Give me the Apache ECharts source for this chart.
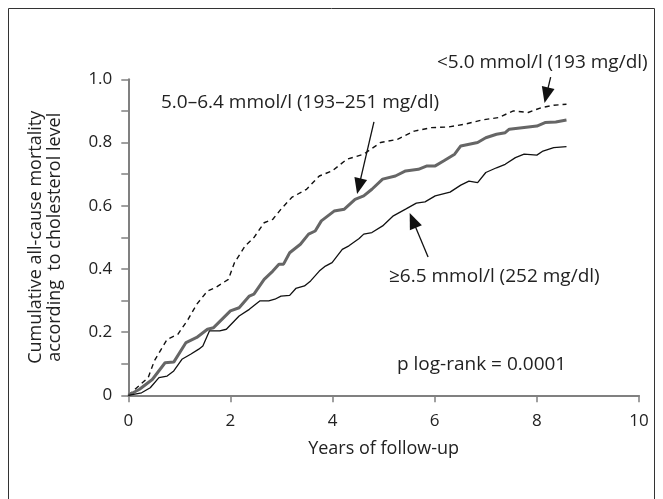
<!DOCTYPE html>
<html>
<head>
<meta charset="utf-8">
<script src="https://cdn.jsdelivr.net/npm/echarts@6/dist/echarts.min.js"></script>
<style>
html,body{margin:0;padding:0;background:#fff;}
#chart{width:663px;height:499px;}
</style>
</head>
<body>
<div id="chart"></div>
<script>
// ---- data (years, cumulative mortality) ----
const lowChol = [[0,0],[0.39,0.056],[0.51,0.109],[0.76,0.177],[0.97,0.193],[1.17,0.24],[1.34,0.288],[1.55,0.33],[1.71,0.341],[1.96,0.367],[2.08,0.42],[2.29,0.473],[2.46,0.499],[2.66,0.546],[2.83,0.557],[2.99,0.589],[3.2,0.626],[3.49,0.652],[3.74,0.694],[3.99,0.71],[4.28,0.747],[4.61,0.763],[4.94,0.80],[5.27,0.81],[5.6,0.836],[5.93,0.847],[6.26,0.849],[6.59,0.858],[6.92,0.871],[7.25,0.879],[7.54,0.90],[7.83,0.895],[8.08,0.91],[8.33,0.918],[8.58,0.921]];
const midChol = [[0,0],[0.22,0.019],[0.47,0.05],[0.72,0.103],[0.89,0.105],[1.13,0.167],[1.34,0.183],[1.55,0.209],[1.67,0.214],[2.0,0.267],[2.17,0.277],[2.37,0.314],[2.46,0.32],[2.66,0.367],[2.83,0.393],[2.95,0.415],[3.04,0.415],[3.16,0.451],[3.37,0.478],[3.53,0.51],[3.66,0.52],[3.78,0.552],[4.03,0.583],[4.23,0.589],[4.44,0.62],[4.61,0.631],[4.77,0.652],[4.98,0.684],[5.23,0.694],[5.43,0.71],[5.68,0.715],[5.85,0.726],[6.01,0.726],[6.18,0.742],[6.39,0.763],[6.51,0.789],[6.84,0.80],[7.0,0.815],[7.21,0.826],[7.38,0.831],[7.46,0.842],[8.0,0.852],[8.16,0.863],[8.37,0.865],[8.58,0.871]];
const highChol = [[0,0],[0.26,0.008],[0.43,0.024],[0.6,0.056],[0.76,0.061],[0.89,0.077],[1.05,0.114],[1.22,0.13],[1.38,0.146],[1.46,0.156],[1.59,0.204],[1.79,0.204],[1.92,0.209],[2.17,0.251],[2.37,0.272],[2.58,0.299],[2.75,0.299],[2.87,0.304],[2.99,0.314],[3.16,0.316],[3.28,0.338],[3.45,0.346],[3.57,0.362],[3.74,0.393],[3.86,0.409],[3.99,0.42],[4.19,0.462],[4.32,0.473],[4.52,0.496],[4.61,0.51],[4.77,0.515],[4.98,0.536],[5.19,0.568],[5.43,0.589],[5.64,0.608],[5.81,0.612],[6.01,0.631],[6.3,0.643],[6.51,0.665],[6.67,0.678],[6.84,0.673],[7.0,0.705],[7.21,0.72],[7.38,0.731],[7.58,0.752],[7.75,0.763],[8.0,0.76],[8.12,0.773],[8.33,0.784],[8.58,0.787]];

const xTickLabels = ['0','2','4','6','8','10'];
const yTickLabels = ['0','0.2','0.4','0.6','0.8','1.0'];

const seriesNames = ['<5.0 mmol/l (193 mg/dl)','5.0–6.4 mmol/l (193–251 mg/dl)','≥6.5 mmol/l (252 mg/dl)'];
const pText = 'p log-rank = 0.0001';
const xName = 'Years of follow-up';
const yName = 'Cumulative all-cause mortality\naccording  to cholesterol level';

// annotation arrows: [tail, tip] in data coords
const arrows = [
  [[8.27,1.007],[8.15,0.925]],
  [[4.81,0.865],[4.48,0.637]],
  [[5.87,0.438],[5.51,0.577]]
];

const FONT = '"Open Sans", "Noto Sans", sans-serif';
const TXT = '#222';
const AX = '#808080';

const chart = echarts.init(document.getElementById('chart'));
const option = {
  animation: false,
  backgroundColor: '#fff',
  grid: {left: 128.3, right: 24, top: 79.3, bottom: 103.7, containLabel: false},
  xAxis: {
    type: 'value', min: 0, max: 10, interval: 2,
    name: xName, nameLocation: 'middle', nameGap: 45,
    nameTextStyle: {fontFamily: FONT, fontSize: 18, color: TXT},
    axisLine: {show: true, lineStyle: {color: AX, width: 2}},
    axisTick: {show: true, length: 7, lineStyle: {color: AX, width: 1.5}},
    axisLabel: {fontFamily: FONT, fontSize: 17, color: TXT, margin: 17,
      formatter: v => xTickLabels[Math.round(v/2)]},
    splitLine: {show: false}
  },
  yAxis: {
    type: 'value', min: 0, max: 1.0, interval: 0.1,
    name: yName, nameLocation: 'middle', nameGap: 64, nameRotate: 90,
    nameTextStyle: {fontFamily: FONT, fontSize: 18, color: TXT, lineHeight: 19, align: 'center'},
    axisLine: {show: true, lineStyle: {color: AX, width: 2}},
    axisTick: {show: true, length: 7, lineStyle: {color: AX, width: 1.5}},
    axisLabel: {fontFamily: FONT, fontSize: 17, color: TXT, margin: 16,
      formatter: v => { const i = Math.round(v*10); return i % 2 ? '' : yTickLabels[i/2]; }},
    splitLine: {show: false}
  },
  series: [
    {name: seriesNames[0], type: 'line', data: lowChol, showSymbol: false, smooth: false,
      lineStyle: {color: '#111', width: 1.4, type: [5,4]}},
    {name: seriesNames[1], type: 'line', data: midChol, showSymbol: false,
      lineStyle: {color: '#666', width: 3}},
    {name: seriesNames[2], type: 'line', data: highChol, showSymbol: false,
      lineStyle: {color: '#111', width: 1.3}}
  ]
};
chart.setOption(option);

function arrowGraphics() {
  const els = [];
  arrows.forEach(a => {
    const t = chart.convertToPixel({gridIndex: 0}, a[0]);
    const h = chart.convertToPixel({gridIndex: 0}, a[1]);
    const dx = h[0]-t[0], dy = h[1]-t[1];
    const L = Math.sqrt(dx*dx+dy*dy);
    const ux = dx/L, uy = dy/L;
    const hl = 16, hw = 6.5;
    const bx = h[0]-ux*hl, by = h[1]-uy*hl;
    els.push({type: 'line', shape: {x1: t[0], y1: t[1], x2: bx+ux*2, y2: by+uy*2},
      style: {stroke: '#111', lineWidth: 1.3}});
    els.push({type: 'polygon', shape: {points: [[h[0],h[1]],[bx-uy*hw, by+ux*hw],[bx+uy*hw, by-ux*hw]]},
      style: {fill: '#111'}});
  });
  return els;
}

const textStyle = (s, x, y) => ({type: 'text', x: x, y: y,
  style: {text: s, font: '19px ' + FONT, fill: TXT, verticalAlign: 'middle'}});

chart.setOption({
  graphic: [
    {type: 'rect', shape: {x: 8.5, y: 8.5, width: 646, height: 520},
      style: {fill: 'none', stroke: '#333', lineWidth: 1}},
    textStyle(seriesNames[0], 437, 63),
    textStyle(seriesNames[1], 161, 103),
    textStyle(seriesNames[2], 389, 277),
    textStyle(pText, 397, 365)
  ].concat(arrowGraphics())
});
</script>
</body>
</html>
